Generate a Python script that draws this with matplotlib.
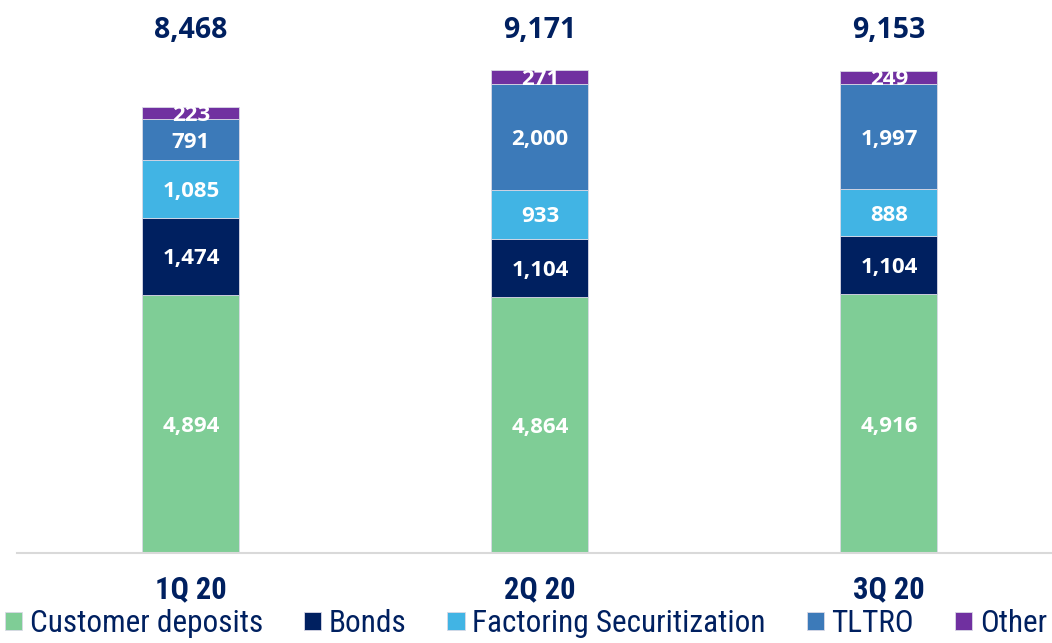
import matplotlib
matplotlib.use("Agg")
import matplotlib.pyplot as plt
from matplotlib import font_manager
import numpy as np

quarters = ["1Q 20", "2Q 20", "3Q 20"]
series_names = ["Customer deposits", "Bonds", "Factoring Securitization", "TLTRO", "Other"]
customer_deposits = [4894, 4864, 4916]
bonds = [1474, 1104, 1104]
factoring = [1085, 933, 888]
tltro = [791, 2000, 1997]
other = [223, 271, 249]
totals = [8468, 9171, 9153]

colors = ["#7fcd96", "#002060", "#41b4e4", "#3c7ab9", "#7030a0"]
navy = "#002060"


def pick_font(names):
    for n in names:
        try:
            font_manager.findfont(n, fallback_to_default=False)
            return n
        except Exception:
            pass
    return "DejaVu Sans"


label_font = pick_font(["Open Sans", "Lato", "DejaVu Sans"])
cond_font = pick_font(["Roboto Condensed", "Liberation Sans Narrow", "Roboto"])

fig = plt.figure(figsize=(10.52, 6.43), dpi=100)
# axes placed in pixel terms: baseline at y=553 from top, top at 50
ax = fig.add_axes([16.5 / 1052, 90 / 643, 1036.5 / 1052, 503 / 643])

x = np.arange(len(quarters))
width = 97 / 349
stack = [customer_deposits, bonds, factoring, tltro, other]
bottom = np.zeros(len(quarters))
for name, vals, col in zip(series_names, stack, colors):
    ax.bar(x, vals, width, bottom=bottom, color=col, label=name,
           edgecolor="#d9d9e6", linewidth=0.6)
    for xi, b, v in zip(x, bottom, vals):
        ax.text(xi, b + v / 2, f"{v:,}", ha="center", va="center_baseline",
                color="white", fontsize=16, fontweight="bold",
                family=label_font)
    bottom += np.array(vals)

trans = ax.get_xaxis_transform()
for xi, t in zip(x, totals):
    ax.text(xi, 1.045, f"{t:,}", transform=trans, ha="center",
            va="center_baseline", color=navy, fontsize=20.5,
            fontweight="bold", family=label_font, clip_on=False)

ax.set_xlim(-0.5, 2.47)
ax.set_ylim(0, 9550)
ax.set_yticks([])
ax.set_xticks(x)
ax.set_xticklabels(quarters, fontsize=22, fontweight="bold", color=navy,
                   family=cond_font)
ax.tick_params(axis="x", length=0, pad=15)
for s in ["top", "right", "left"]:
    ax.spines[s].set_visible(False)
ax.spines["bottom"].set_color("#d9d9d9")
ax.spines["bottom"].set_linewidth(1.5)

fig.legend(loc="lower center", bbox_to_anchor=(0.5, -0.036), ncol=5,
           frameon=False, handlelength=0.55, handleheight=0.55,
           handletextpad=0.25, columnspacing=1.3,
           prop={"family": cond_font, "size": 22.5}, labelcolor=navy)

fig.savefig("out.png", dpi=100)
